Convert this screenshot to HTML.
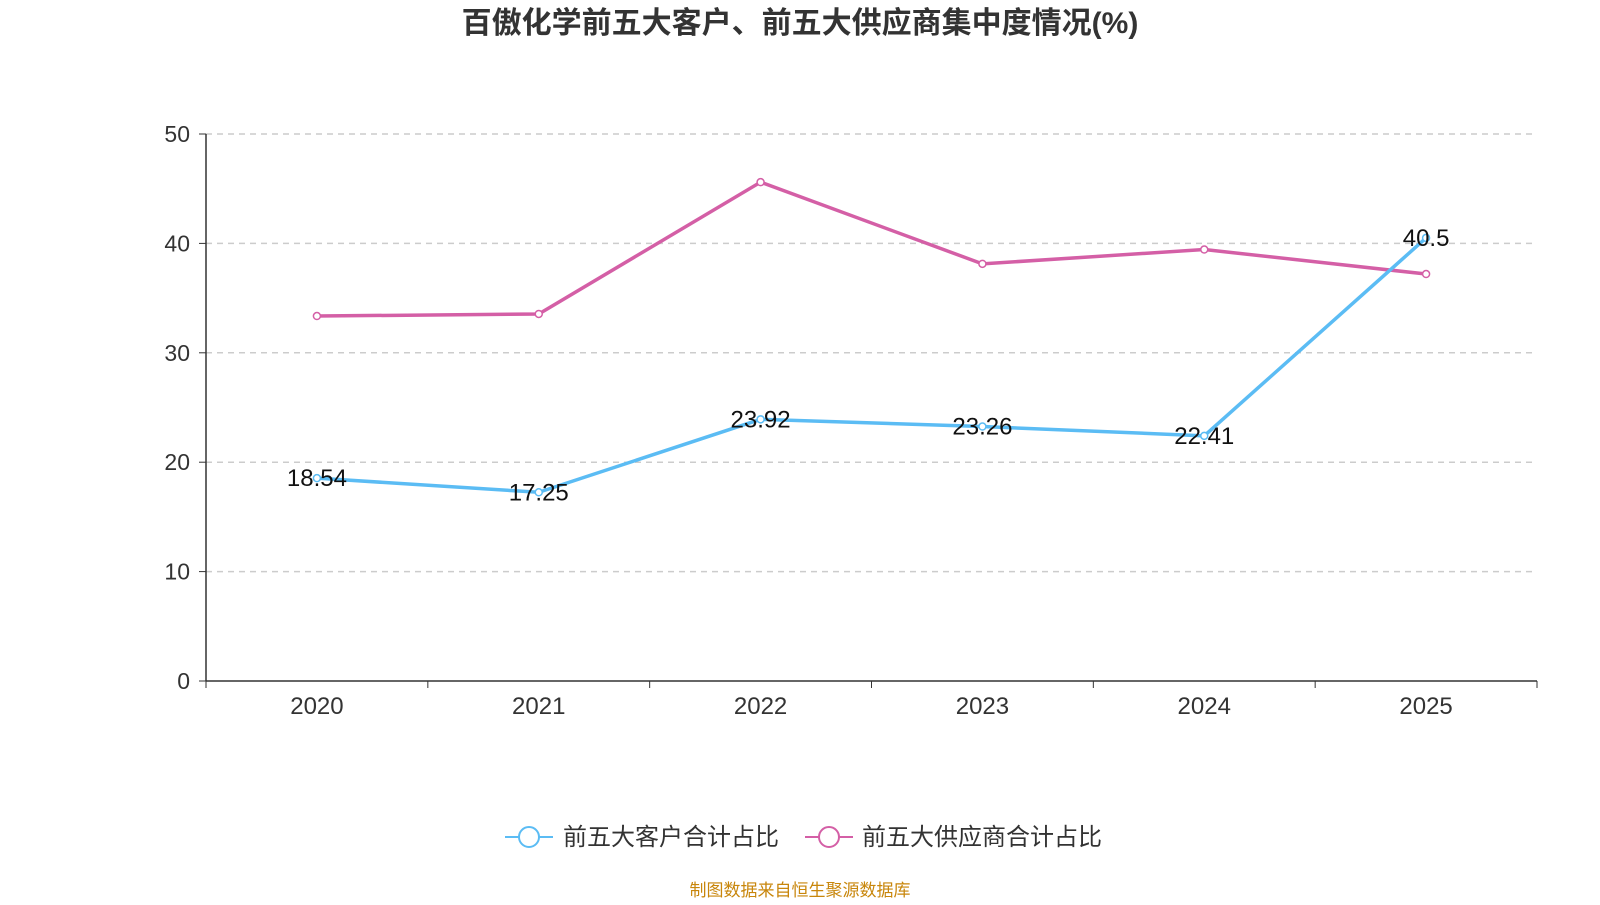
<!DOCTYPE html>
<html><head><meta charset="utf-8"><style>
body{margin:0;background:#fff;width:1600px;height:900px;overflow:hidden;font-family:"Liberation Sans","Noto Sans CJK SC",sans-serif;}
svg text{font-family:"Liberation Sans","Noto Sans CJK SC",sans-serif;}
</style></head><body>
<svg id="chart" width="1600" height="900" xmlns="http://www.w3.org/2000/svg">
<text x="800" y="33" text-anchor="middle" font-size="30" font-weight="bold" fill="#333">百傲化学前五大客户、前五大供应商集中度情况(%)</text>
<g id="grid"></g><g id="axes"></g><g id="series"></g>
<g>
<g>
<line x1="505" y1="837" x2="553" y2="837" stroke="#5bbcf4" stroke-width="2"/>
<circle cx="529" cy="837" r="10" fill="#fff" stroke="#5bbcf4" stroke-width="2"/>
<text x="563" y="845" font-size="24" fill="#333">前五大客户合计占比</text></g>
<g>
<line x1="805" y1="837" x2="853" y2="837" stroke="#d45fa6" stroke-width="2"/>
<circle cx="829" cy="837" r="10" fill="#fff" stroke="#d45fa6" stroke-width="2"/>
<text x="862" y="845" font-size="24" fill="#333">前五大供应商合计占比</text></g>
</g>
<text x="800" y="896" text-anchor="middle" font-size="17" fill="#c8860b">制图数据来自恒生聚源数据库</text>
</svg>
<script>
const categories=["2020","2021","2022","2023","2024","2025"];
const customers=[18.54,17.25,23.92,23.26,22.41,40.5];
const suppliers=[33.36,33.55,45.6,38.13,39.44,37.2];
const yTicks=[0,10,20,30,40,50];
const NS="http://www.w3.org/2000/svg";
const L=206,R=1537,T=134,B=681,yMax=50;
const bw=(R-L)/categories.length;
const x=i=>L+bw*(i+0.5);
const y=v=>B-(v/yMax)*(B-T);
function mk(tag,attrs,parent,text){const e=document.createElementNS(NS,tag);for(const k in attrs)e.setAttribute(k,attrs[k]);if(text!==undefined)e.textContent=text;parent.appendChild(e);return e;}
const grid=document.getElementById('grid'),axes=document.getElementById('axes'),series=document.getElementById('series');
yTicks.forEach(t=>{
 if(t>0){const g=mk('line',{x1:L,x2:R,y1:y(t),y2:y(t),stroke:'#ccc','stroke-dasharray':'6,5','stroke-width':1.5},grid);
 
 }
 mk('line',{x1:L-7,x2:L,y1:y(t),y2:y(t),stroke:'#333'},axes);
 const tx=mk('text',{x:L-16,y:y(t)+8,'text-anchor':'end','font-size':23,fill:'#333'},axes,t);
 
 
});
const ya=mk('line',{x1:L,x2:L,y1:T,y2:B,stroke:'#333','stroke-width':1.5},axes);


const xa=mk('line',{x1:L,x2:R,y1:B,y2:B,stroke:'#333','stroke-width':1.5},axes);


for(let i=0;i<=categories.length;i++)mk('line',{x1:L+bw*i,x2:L+bw*i,y1:B,y2:B+7,stroke:'#333'},axes);
categories.forEach((c,i)=>{const t=mk('text',{x:x(i),y:B+33,'text-anchor':'middle','font-size':24,fill:'#333'},axes,c);
 
 });
function draw(vals,color,name,labels){
 const p=mk('polyline',{points:vals.map((v,i)=>x(i)+','+y(v)).join(' '),fill:'none',stroke:color,'stroke-width':3.5},series);
 
 
 vals.forEach((v,i)=>{const c=mk('circle',{cx:x(i),cy:y(v),r:3.5,fill:'#fff',stroke:color,'stroke-width':1.5},series);
  
  
  if(labels){const t=mk('text',{x:x(i),y:y(v)+8,'text-anchor':'middle','font-size':24,fill:'#111'},series,v);
  
  }});
}
draw(suppliers,'#d45fa6','suppliers',false);
draw(customers,'#5bbcf4','customers',true);
</script>
</body></html>
